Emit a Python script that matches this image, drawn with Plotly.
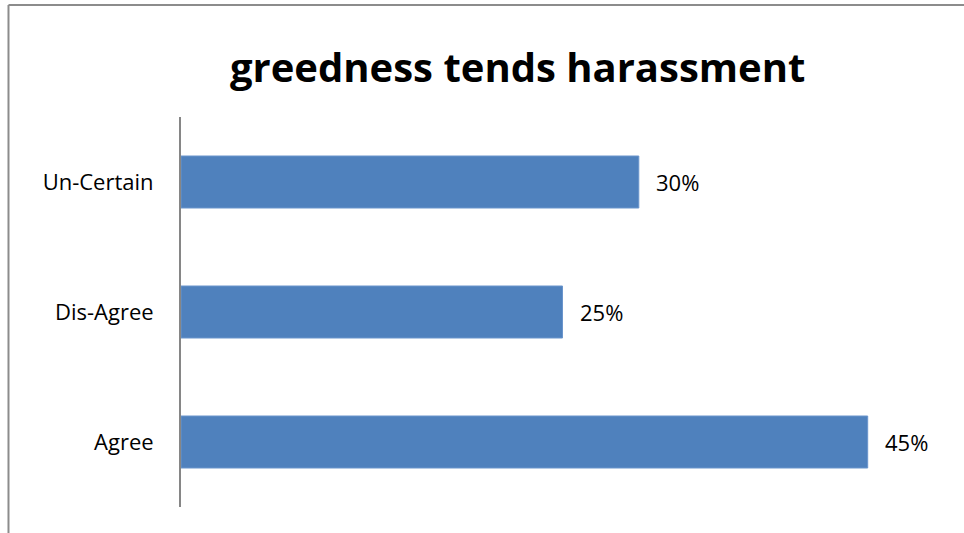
import plotly.graph_objects as go

categories = ["Agree", "Dis-Agree", "Un-Certain"]
values = [45, 25, 30]
labels = ["45%", "25%", "30%"]
title_text = "greedness tends harassment"

FONT = "Open Sans, Noto Sans, Liberation Sans, sans-serif"

fig = go.Figure()
fig.add_trace(go.Bar(
    y=categories, x=values, orientation="h",
    width=0.4,
    marker=dict(color="#4F81BD", line=dict(color="#6A95CC", width=1)),
    hoverinfo="skip",
))

for c, v, t in zip(categories, values, labels):
    fig.add_annotation(x=v, y=c, text=t, showarrow=False, xanchor="left",
                       xshift=15, font=dict(family=FONT, size=22, color="#000"))

# outer chart border (top and left visible)
fig.add_shape(type="line", xref="paper", yref="paper", x0=-0.2261, x1=-0.2261,
              y0=-0.3, y1=1.287, line=dict(color="#8c8c8c", width=2))
fig.add_shape(type="line", xref="paper", yref="paper", x0=-0.2261, x1=1.2,
              y0=1.287, y1=1.287, line=dict(color="#8c8c8c", width=2))

fig.update_layout(
    width=964, height=533,
    margin=dict(l=181, r=20, t=117, b=26),
    paper_bgcolor="white", plot_bgcolor="white",
    showlegend=False,
    title=dict(text="<b>" + title_text + "</b>", x=0.537, xanchor="center",
               y=0.872, yanchor="middle",
               font=dict(family=FONT, size=40, color="#000")),
    xaxis=dict(range=[0, 50], visible=False, fixedrange=True),
    yaxis=dict(showline=True, linecolor="#868686", linewidth=2,
               showgrid=False, ticks="", ticklen=0, fixedrange=True,
               tickfont=dict(family=FONT, size=22, color="#000"),
               ticklabelstandoff=21),
)

fig.write_html("out.html",
               config={"displayModeBar": False, "staticPlot": True},
               post_script="document.body.style.margin='0';")
